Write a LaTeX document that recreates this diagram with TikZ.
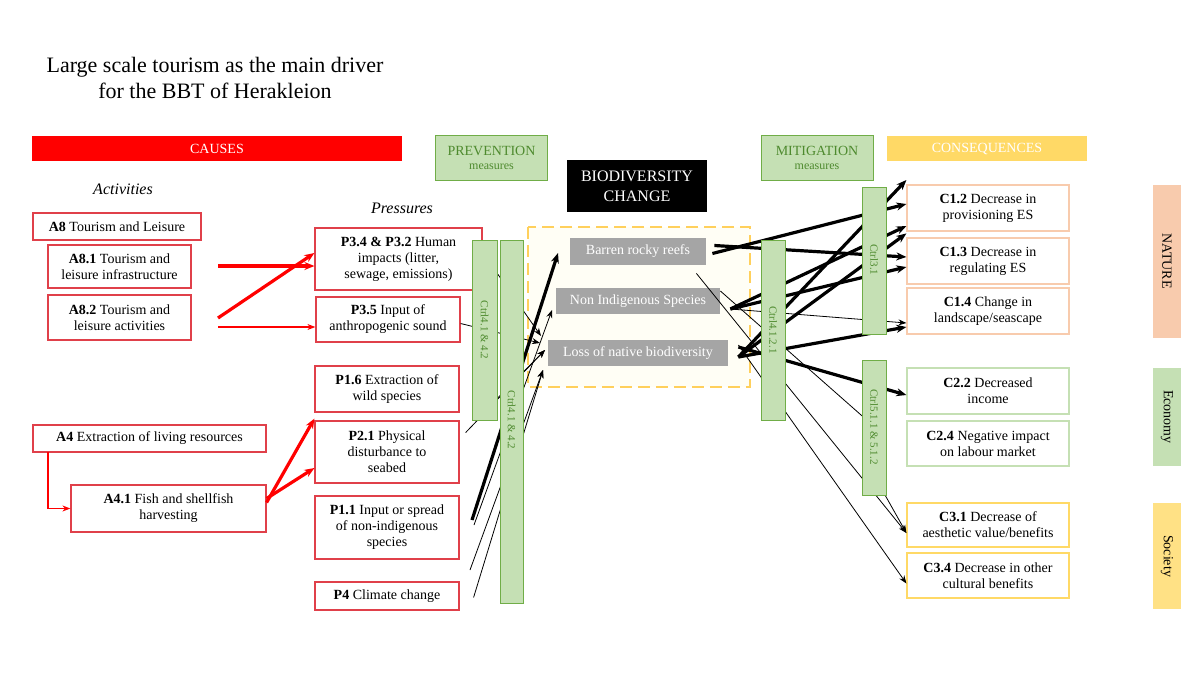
\documentclass[tikz,border=0pt]{standalone}
\usepackage{fontspec}
\setmainfont{Liberation Serif}
\usetikzlibrary{arrows.meta}
\definecolor{cred}{HTML}{FF0000}
\definecolor{pred}{HTML}{E0404A}
\definecolor{gfill}{HTML}{C5E0B4}
\definecolor{gline}{HTML}{70AD47}
\definecolor{gtext}{HTML}{4E8A2E}
\definecolor{yel}{HTML}{FFD966}
\definecolor{salm}{HTML}{F8CBAD}
\definecolor{grey}{HTML}{A5A5A5}
\begin{document}
\begin{tikzpicture}[x=0.5pt,y=-0.5pt,
 box/.style={draw=pred,line width=0.6pt,align=center,font=\fontsize{7}{8}\selectfont,inner sep=1pt},
 cbox/.style={draw=#1,line width=0.6pt,fill=white,align=center,font=\fontsize{7}{8}\selectfont,inner sep=1pt},
 bar/.style={draw=gline,fill=gfill,line width=0.5pt},
 bartxt/.style={rotate=-90,text=gtext,font=\fontsize{5.5}{6}\selectfont},
 gbox/.style={fill=grey,text=white,font=\fontsize{7}{8}\selectfont,inner sep=0pt},
 ra/.style={cred,line width=1.6pt,-{Stealth[length=5pt,width=4pt]}},
 rt/.style={cred,line width=0.6pt,-{Stealth[length=4pt,width=3pt]}},
 ka/.style={black,line width=1.6pt,-{Stealth[length=5pt,width=4pt]}},
 kt/.style={black,line width=0.4pt,-{Stealth[length=4pt,width=3pt]}}]
\useasboundingbox (0,0) rectangle (1200,675);
\node[align=center,font=\fontsize{11}{13}\selectfont] (title) at (215,78) {Large scale tourism as the main driver\\for the BBT of Herakleion};
% headers
\fill[cred] (32,136) rectangle (402,161);
\node[text=white,font=\fontsize{7}{8}\selectfont] (causes) at (217,148.5) {CAUSES};
\node[draw=gline,fill=gfill,minimum width=56pt,minimum height=22.5pt,align=center,text=gtext,font=\fontsize{7}{8}\selectfont,inner sep=0pt] (prev) at (491.5,157.5) {PREVENTION\\[-1pt]{\fontsize{6}{7}\selectfont measures}};
\node[fill=black,text=white,minimum width=70pt,minimum height=26pt,align=center,font=\fontsize{8}{10}\selectfont,inner sep=0pt] (bdc) at (637,186) {BIODIVERSITY\\CHANGE};
\node[draw=gline,fill=gfill,minimum width=56pt,minimum height=22.5pt,align=center,text=gtext,font=\fontsize{7}{8}\selectfont,inner sep=0pt] (mit) at (817,157.5) {MITIGATION\\[-1pt]{\fontsize{6}{7}\selectfont measures}};
\fill[yel] (887,136) rectangle (1087,161);
\node[text=white,font=\fontsize{7}{8}\selectfont] (cons) at (987,148.5) {CONSEQUENCES};
\node[font=\fontsize{8}{9}\itshape] (act) at (123,189) {Activities};
\node[font=\fontsize{8}{9}\itshape] (pres) at (402,208) {Pressures};
% activities
\node[box,minimum width=84pt,minimum height=13.5pt] (A8) at (117,226.5) {\textbf{A8} Tourism and Leisure};
\node[box,minimum width=71.5pt,minimum height=21.5pt] (A81) at (119.5,266.5) {\textbf{A8.1} Tourism and\\leisure infrastructure};
\node[box,minimum width=71.5pt,minimum height=22.5pt] (A82) at (119.5,317.5) {\textbf{A8.2} Tourism and\\leisure activities};
\node[box,minimum width=116.5pt,minimum height=13.5pt] (A4) at (149.5,438.5) {\textbf{A4} Extraction of living resources};
\node[box,minimum width=97.5pt,minimum height=23.5pt] (A41) at (168.5,508.5) {\textbf{A4.1} Fish and shellfish\\harvesting};
\coordinate (a4c) at (48,508.5);
\draw[rt] (48,452) -- (a4c) -- (A41.west);
% pressures
\node[box,minimum width=83.5pt,minimum height=31pt] (P34) at (398.5,259) {\textbf{P3.4 \& P3.2} Human\\impacts (litter,\\sewage, emissions)};
\node[box,minimum width=72pt,minimum height=22.5pt] (P35) at (388,319.5) {\textbf{P3.5} Input of\\anthropogenic sound};
\node[box,minimum width=72pt,minimum height=23pt] (P16) at (387,389) {\textbf{P1.6} Extraction of\\wild species};
\node[box,minimum width=72pt,minimum height=31pt] (P21) at (387,452) {\textbf{P2.1} Physical\\disturbance to\\seabed};
\node[box,minimum width=72pt,minimum height=31.5pt] (P11) at (387,527.5) {\textbf{P1.1} Input or spread\\of non-indigenous\\species};
\node[box,minimum width=72pt,minimum height=14pt] (P4) at (387,596) {\textbf{P4} Climate change};
% red arrows
\coordinate (r1) at (218,266); \coordinate (r2) at (218,318); \coordinate (r3) at (218,327);
\draw[ra] (r1) -- (P34.west|-r1);
\draw[ra] (r2) -- ([yshift=3pt]P34.west);
\draw[rt] (r3) -- (P35.west|-r3);
\draw[ra] ([yshift=3pt]A41.east) -- ([yshift=-3pt]P16.south west);
\draw[ra] ([yshift=5pt]A41.east) -- ([yshift=-8pt]P21.west);
% dashed box
\draw[yel!90!orange,fill=yellow!4,line width=1pt,dash pattern=on 6pt off 3pt] (528,227) rectangle (750,387);
\node[gbox,minimum width=68pt,minimum height=13.5pt] (BRR) at (638,251.5) {Barren rocky reefs};
\node[gbox,minimum width=82pt,minimum height=13pt] (NIS) at (638,301) {Non Indigenous Species};
\node[gbox,minimum width=90pt,minimum height=13pt] (LNB) at (638,353) {Loss of native biodiversity};
% consequences
\node[cbox=salm,minimum width=81pt,minimum height=23pt] (C12) at (988,208) {\textbf{C1.2} Decrease in\\provisioning ES};
\node[cbox=salm,minimum width=81pt,minimum height=23pt] (C13) at (988,261) {\textbf{C1.3} Decrease in\\regulating ES};
\node[cbox=salm,minimum width=81pt,minimum height=23pt] (C14) at (988,311) {\textbf{C1.4} Change in\\landscape/seascape};
\node[cbox=gfill,minimum width=81pt,minimum height=23pt] (C22) at (988,391) {\textbf{C2.2} Decreased\\income};
\node[cbox=gfill,minimum width=81pt,minimum height=22.5pt] (C24) at (988,443.5) {\textbf{C2.4} Negative impact\\on labour market};
\node[cbox=yel,minimum width=81pt,minimum height=22pt] (C31) at (988,525) {\textbf{C3.1} Decrease of\\aesthetic value/benefits};
\node[cbox=yel,minimum width=81pt,minimum height=22.5pt] (C34) at (988,575.5) {\textbf{C3.4} Decrease in other\\cultural benefits};
% side bars
\fill[salm] (1153,185) rectangle (1181,338);
\node[rotate=-90,font=\fontsize{7}{8}\selectfont] (nat) at (1167,261) {NATURE};
\fill[gfill] (1153,368) rectangle (1181,466);
\node[rotate=-90,font=\fontsize{7}{8}\selectfont] (eco) at (1167,417) {Economy};
\fill[yel!80] (1153,503) rectangle (1181,609);
\node[rotate=-90,font=\fontsize{7}{8}\selectfont] (soc) at (1167,556) {Society};
% pressure -> biodiversity
\coordinate (t1) at (541,336); \coordinate (t2) at (540,343); \coordinate (t3) at (545,350); \coordinate (t4) at (543,370); \coordinate (t5) at (552,310);
\draw[kt] ([xshift=3pt,yshift=-1pt]P34.east) -- (t1);
\draw[kt] ([yshift=-2pt]P35.east) -- (t2);
\draw[kt] ([xshift=3pt,yshift=-10pt]P16.south east) -- (t3);
\draw[kt] ([xshift=8pt]P21.north east) -- (t3);
\draw[ka] (472,520) -- (558,253);
\draw[kt] (474,525) -- (t5);
\draw[kt] (470,570) -- (t4);
\draw[kt] ([xshift=7pt,yshift=-8pt]P4.north east) -- (t4);
% biodiversity -> consequences
\draw[ka] ([xshift=3pt,yshift=-1pt]BRR.east) -- ([yshift=2pt]C12.west);
\draw[ka] ([xshift=4pt,yshift=3pt]BRR.east) -- ([yshift=2pt]C13.west);
\draw[ka] ([xshift=5pt,yshift=-4pt]NIS.east) -- ([yshift=-9pt]C12.west);
\draw[ka] ([xshift=5pt,yshift=-4pt]NIS.east) -- ([yshift=-3pt]C13.west);
\draw[kt] ([xshift=5pt,yshift=-4pt]NIS.east) -- ([yshift=-6pt]C14.west);
\draw[ka] ([xshift=5pt,yshift=-2pt]LNB.east) -- ([yshift=14pt]C12.west);
\draw[ka] ([xshift=5pt,yshift=-2pt]LNB.east) -- ([yshift=-8pt]C14.west);
\draw[ka] ([xshift=5pt,yshift=-2pt]LNB.east) -- ([yshift=2pt]C13.north west);
\draw[ka] ([xshift=5pt,yshift=3pt]LNB.east) -- ([yshift=-2pt]C22.west);
\draw[kt] ([xshift=-5pt,yshift=-4pt]BRR.south east) -- ([yshift=-4pt]C31.west);
\draw[kt] ([xshift=0pt,yshift=5pt]NIS.east) -- (886,437);
\draw[kt] ([xshift=5pt,yshift=4pt]LNB.east) -- ([yshift=-4pt]C34.west);
\draw[kt] (885,495) -- ([yshift=-4pt]C31.west);
% bars (on top of connectors)
\draw[bar] (472,240) rectangle (497,420);
\node[bartxt] (c1) at (484.5,330) {Ctrl4.1 \& 4.2};
\draw[bar] (500,240) rectangle (523,603);
\node[bartxt] (c2) at (511.5,420) {Ctrl4.1 \& 4.2};
\draw[bar] (761,240) rectangle (785,420);
\node[bartxt] (c3) at (773,330) {Ctrl4.1.2.1};
\draw[bar] (862,187) rectangle (886,334);
\node[bartxt] (c4) at (874,260) {Ctrl3.1};
\draw[bar] (862,360) rectangle (886,495);
\node[bartxt] (c5) at (874,427) {Ctrl5.1.1 \& 5.1.2};
\end{tikzpicture}
\end{document}
